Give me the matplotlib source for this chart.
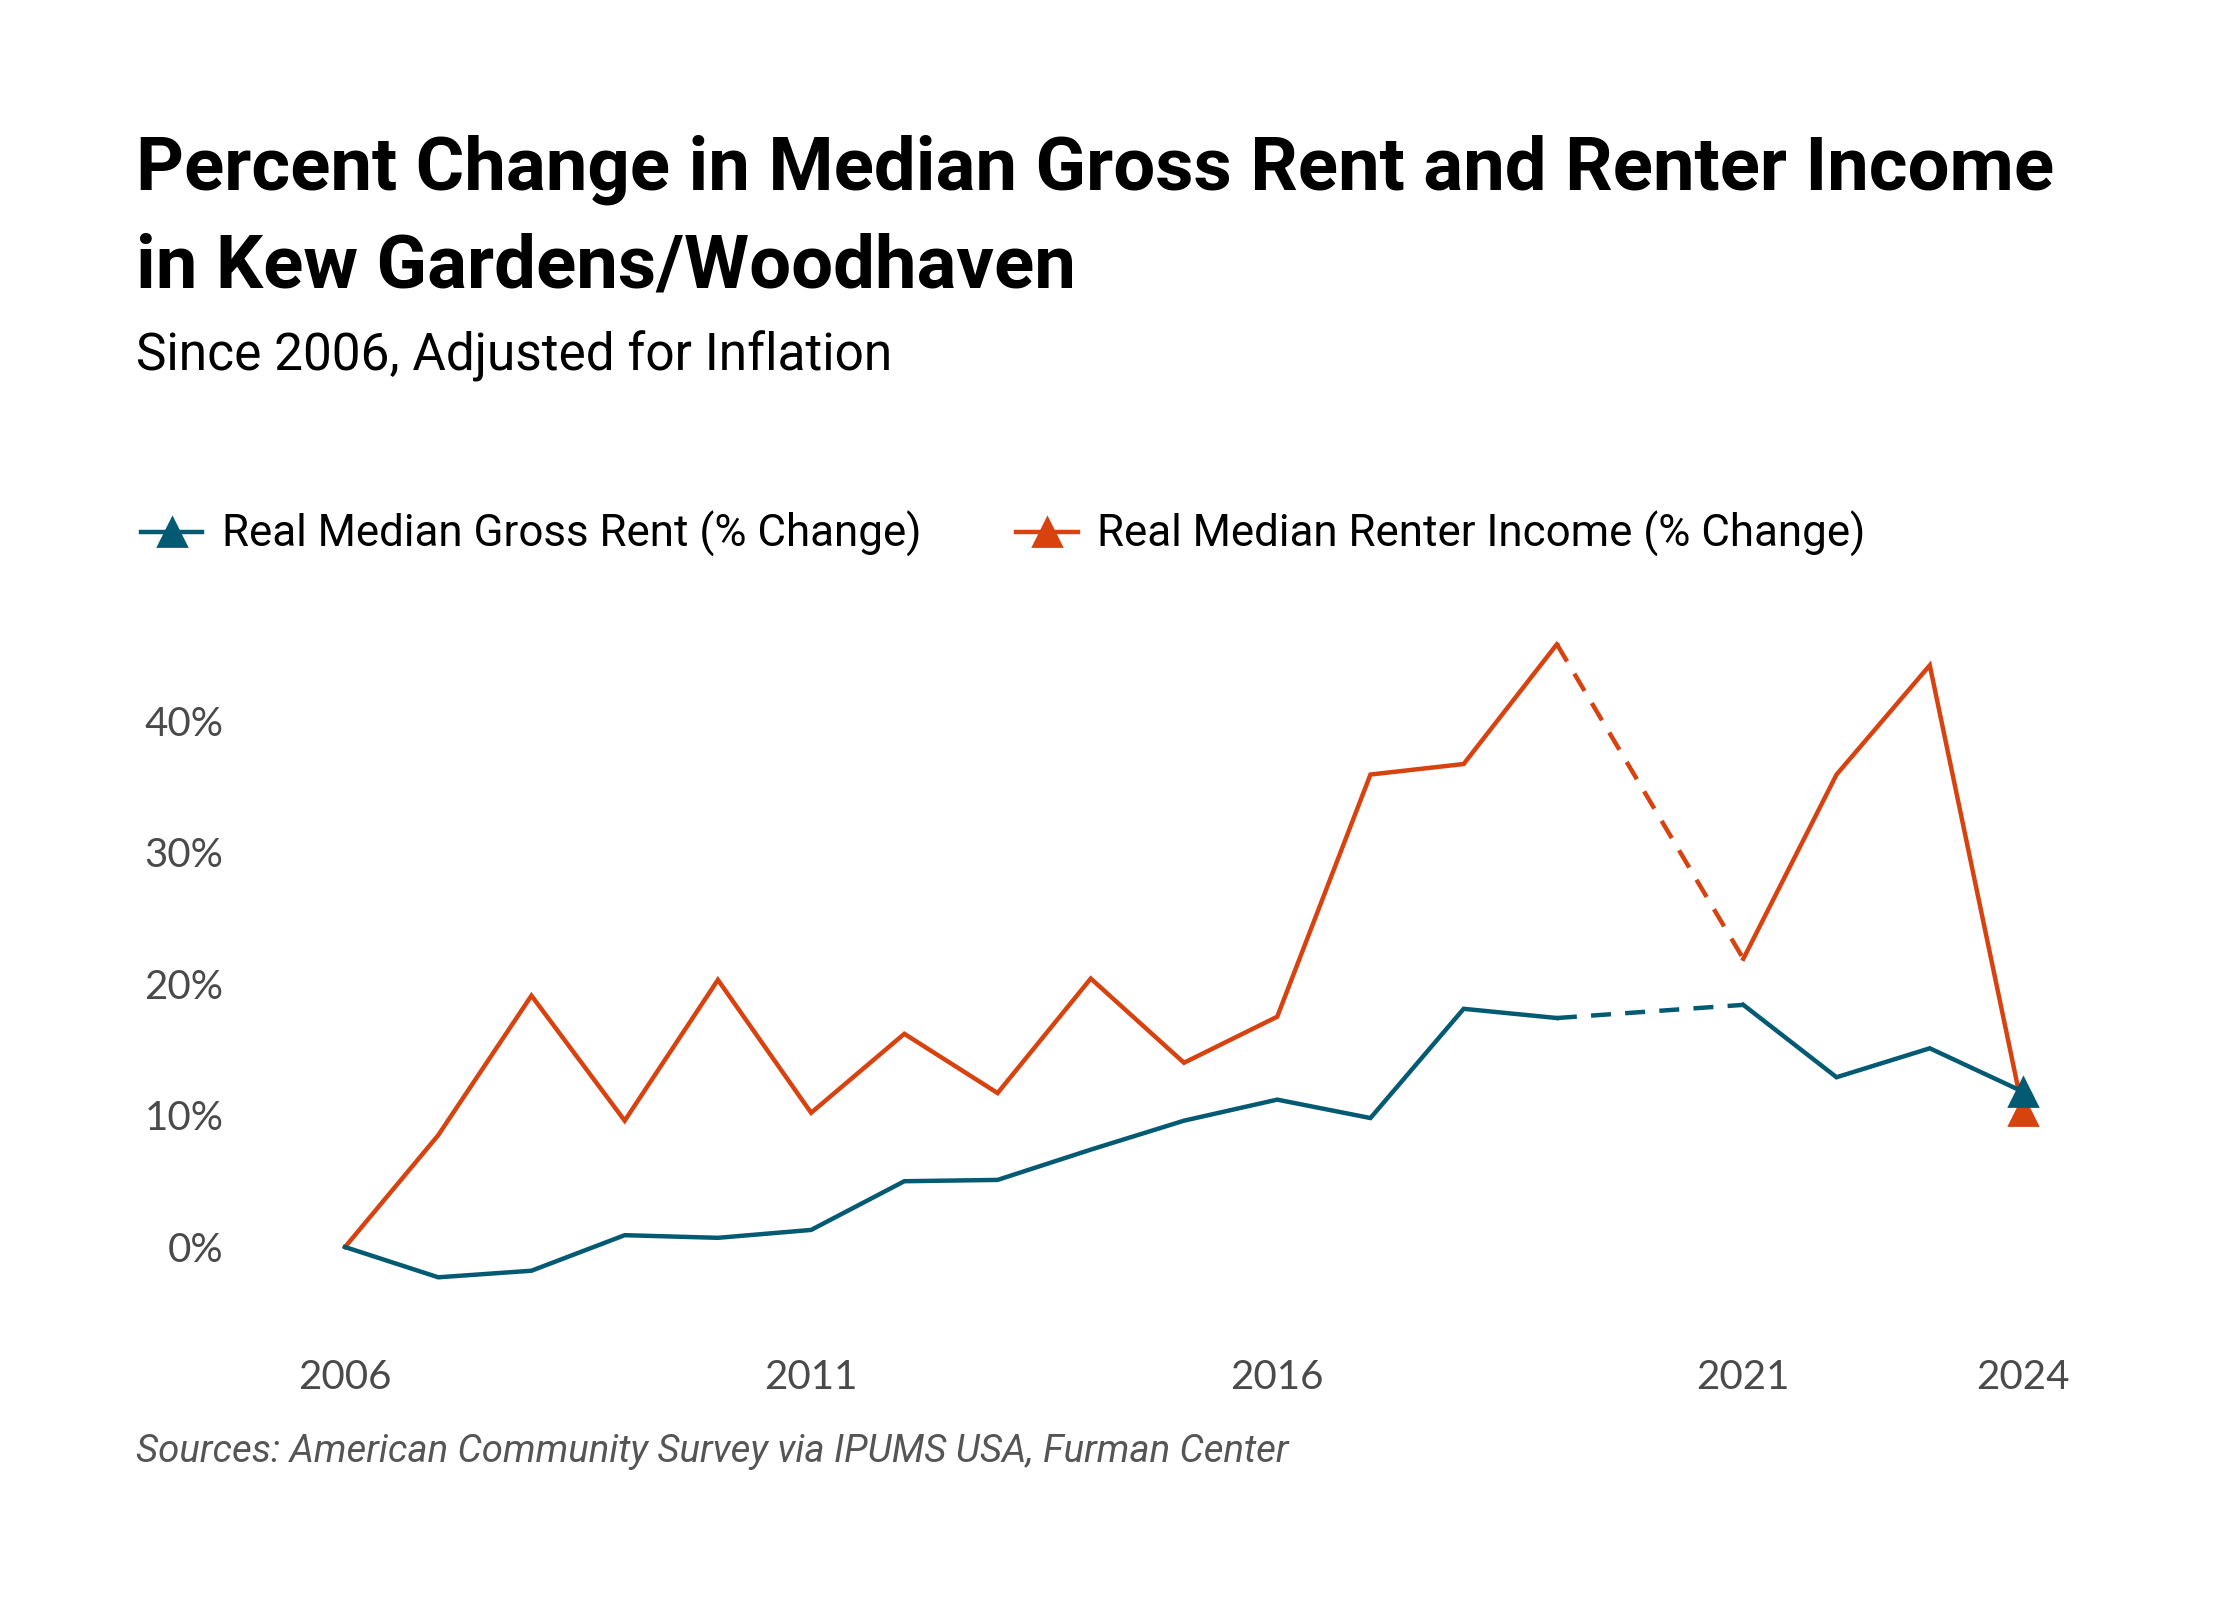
import matplotlib.pyplot as plt
import numpy as np
from matplotlib.lines import Line2D

# Data (2020 has no survey value)
years = np.arange(2006, 2025)
rent_change = [0.0, -2.3, -1.8, 0.9, 0.7, 1.3, 5.0, 5.1, 7.4, 9.6, 11.2,
               9.8, 18.1, 17.4, np.nan, 18.4, 12.9, 15.1, 11.8]
income_change = [0.0, 8.5, 19.1, 9.6, 20.3, 10.2, 16.2, 11.7, 20.4, 14.0,
                 17.5, 35.9, 36.7, 45.8, np.nan, 21.9, 35.9, 44.2, 10.3]
labels = ["Real Median Gross Rent (% Change)",
          "Real Median Renter Income (% Change)"]
x_ticks = [2006, 2011, 2016, 2021, 2024]
y_ticks = [0, 10, 20, 30, 40]

BLUE = "#045a72"
ORANGE = "#d8420f"
GREY = "#4a4a4a"

fig = plt.figure(figsize=(11.2, 8), dpi=200)
ax = fig.add_axes([298.4 / 2240, 0.17125, 1771.2 / 2240, 0.4442])


def draw_series(values, color, z):
    vals = np.array(values, dtype=float)
    ax.plot(years, vals, color=color, lw=1.6, zorder=z, solid_joinstyle="miter")
    # dashed bridge over the missing year
    for i in np.where(np.isnan(vals))[0]:
        ax.plot([years[i - 1], years[i + 1]], [vals[i - 1], vals[i + 1]],
                color=color, lw=1.6, ls=(0, (4.5, 3.2)), zorder=z)
    ax.plot(years[-1], vals[-1], marker="^", ms=10, color=color,
            ls="none", zorder=z + 2, clip_on=False)


draw_series(income_change, ORANGE, 2)
draw_series(rent_change, BLUE, 3)

ax.set_xlim(2005.5, 2024.5)
ax.set_ylim(-6, 48)
ax.set_xticks(x_ticks)
ax.set_xticklabels([str(y) for y in x_ticks])
ax.set_yticks(y_ticks)
ax.set_yticklabels([f"{v}%" for v in y_ticks])
for s in ax.spines.values():
    s.set_visible(False)
ax.tick_params(axis="both", length=0, colors=GREY, labelsize=14.5)
ax.tick_params(axis="y", pad=27)
ax.tick_params(axis="x", pad=12)
for t in ax.get_xticklabels() + ax.get_yticklabels():
    t.set_fontfamily("Lato")

handles = [
    Line2D([], [], color=BLUE, lw=1.6, marker="^", ms=10),
    Line2D([], [], color=ORANGE, lw=1.6, marker="^", ms=10),
]
fig.legend(handles, labels, loc="center left", bbox_to_anchor=(141 / 2240, 0.666),
           ncol=2, frameon=False, borderpad=0, borderaxespad=0,
           handlelength=1.4, handletextpad=0.45, columnspacing=2.15,
           prop={"family": "Roboto", "size": 15.8})

title_kw = dict(fontsize=26.8, fontweight="bold", family="Roboto", va="baseline")
fig.text(136 / 2240, 1 - 190 / 1600,
         "Percent Change in Median Gross Rent and Renter Income", **title_kw)
fig.text(136 / 2240, 1 - 287 / 1600, "in Kew Gardens/Woodhaven", **title_kw)
fig.text(136 / 2240, 1 - 370 / 1600, "Since 2006, Adjusted for Inflation",
         fontsize=18.5, family="Roboto", va="baseline")
fig.text(136 / 2240, 1 - 1462 / 1600,
         "Sources: American Community Survey via IPUMS USA, Furman Center",
         fontsize=13.8, family="Roboto", style="italic",
         color="#555555", va="baseline")

fig.savefig("out.png", dpi=200, facecolor="white")
